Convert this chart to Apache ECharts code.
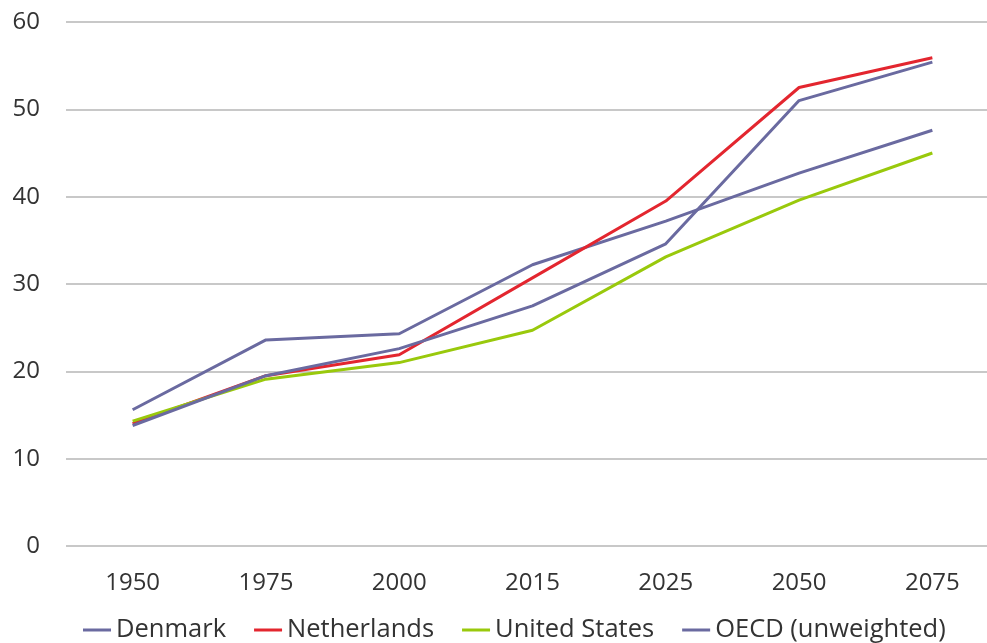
<!DOCTYPE html>
<html>
<head>
<meta charset="utf-8">
<script src="https://cdn.jsdelivr.net/npm/echarts@6/dist/echarts.min.js"></script>
<style>
  html, body { margin: 0; padding: 0; background: #fff; }
  #chart { width: 987px; height: 643px; }
</style>
</head>
<body>
<div id="chart"></div>
<script>
// Old-age dependency ratio, selected countries and OECD average
const years = ['1950', '1975', '2000', '2015', '2025', '2050', '2075'];
const denmark = [15.6, 23.6, 24.3, 32.2, 37.2, 42.7, 47.6];
const netherlands = [14.0, 19.5, 21.9, 30.7, 39.5, 52.5, 55.9];
const unitedStates = [14.3, 19.1, 21.0, 24.7, 33.1, 39.6, 45.0];
const oecd = [13.8, 19.5, 22.6, 27.5, 34.6, 51.0, 55.4];
const yTicks = { min: 0, max: 60, interval: 10 };

const font = '"Open Sans", sans-serif';
const purple = '#6a6aa0';

function line(name, data, color) {
  return {
    name, type: 'line', data,
    symbol: 'none',
    lineStyle: { width: 3, color },
    itemStyle: { color },
    emphasis: { disabled: true }
  };
}

const chart = echarts.init(document.getElementById('chart'));
chart.setOption({
  animation: false,
  grid: { left: 66, top: 22, width: 933, height: 524, outerBoundsMode: 'none', containLabel: false },
  legend: {
    top: 612,
    left: 78,
    icon: 'rect',
    itemWidth: 28,
    itemHeight: 3,
    itemGap: 28,
    textStyle: { fontFamily: font, fontSize: 25.5, color: '#333' }
  },
  xAxis: {
    type: 'category',
    data: years,
    boundaryGap: true,
    axisLine: { show: false },
    axisTick: { show: false },
    axisLabel: { fontFamily: font, fontSize: 24, color: '#333', margin: 25 }
  },
  yAxis: {
    type: 'value',
    min: yTicks.min, max: yTicks.max, interval: yTicks.interval,
    axisLine: { show: false },
    axisTick: { show: false },
    splitLine: { lineStyle: { color: '#c8c8c8', width: 2 } },
    axisLabel: { fontFamily: font, fontSize: 24, color: '#333', margin: 26 }
  },
  series: [
    line('Denmark', denmark, purple),
    line('Netherlands', netherlands, '#e3262f'),
    line('United States', unitedStates, '#99c90c'),
    line('OECD (unweighted)', oecd, purple)
  ]
});
</script>
</body>
</html>
